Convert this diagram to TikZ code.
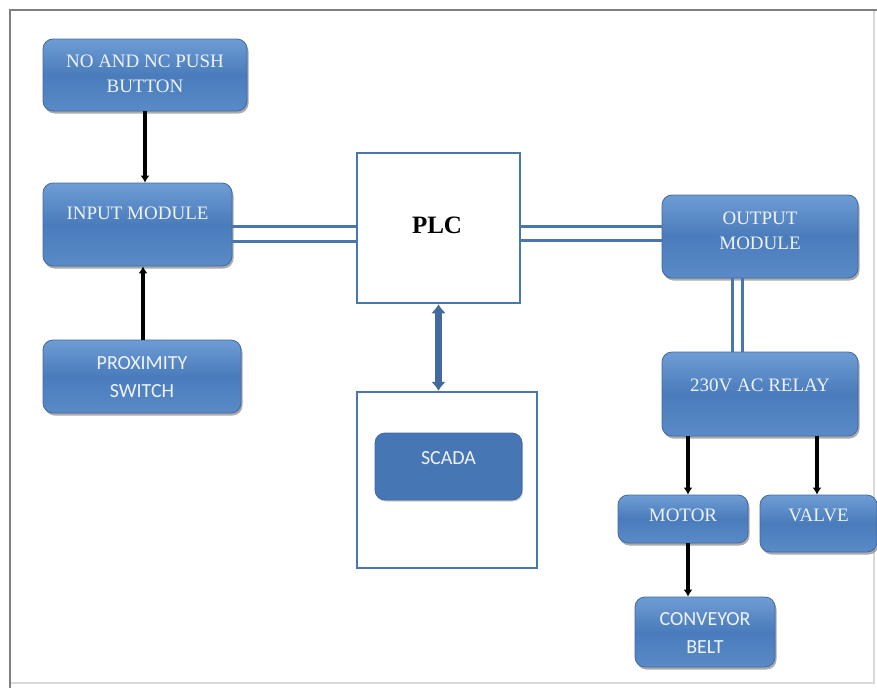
\documentclass[tikz,border=0pt]{standalone}
\usepackage{fontspec}
\setmainfont{Liberation Serif}
\newfontfamily\calib{Carlito}
\usetikzlibrary{arrows.meta,shadows}
\definecolor{bxtop}{HTML}{6E9DD5}
\definecolor{bxmid}{HTML}{4A7BBB}
\definecolor{bxbot}{HTML}{5A8BC8}
\definecolor{bxline}{HTML}{41699E}
\definecolor{lineblue}{HTML}{4A76B0}
\definecolor{txtw}{HTML}{EEF3FB}
\definecolor{scadafill}{HTML}{4676B4}
\tikzset{
  bluebox/.style={rounded corners=10pt, draw=bxline, line width=0.8pt,
    top color=bxtop, bottom color=bxbot, middle color=bxmid,
    drop shadow={shadow xshift=1.5pt, shadow yshift=-2.5pt, fill=black!60, opacity=.55},
    inner sep=0pt},
  serift/.style={text=txtw, font=\fontsize{19}{24.5}\selectfont, align=center, inner sep=0pt},
  sanst/.style={text=txtw, font=\calib\fontsize{20}{28}\selectfont, align=center, inner sep=0pt},
  whitebox/.style={draw=lineblue, line width=2.5pt, fill=white, inner sep=0pt},
  blk/.style={line width=4.5pt, draw=black, -{Latex[length=7pt,width=9pt]}},
  dbl/.style={line width=3pt, draw=lineblue},
}
\begin{document}
\begin{tikzpicture}[x=1pt,y=-1pt]
\useasboundingbox (0,0) rectangle (877,688);
\fill[white] (0,0) rectangle (877,688);
% frame
\draw[black!15, line width=1.5pt] (10,10) rectangle (874,683);
\draw[black!50, line width=2pt] (10,688) -- (10,10) -- (877,10);

% nodes
\node[bluebox, minimum width=204pt, minimum height=72pt] (btn) at (145,75) {};
\node[serift] (btnT) at (145,74) {NO AND NC PUSH\\BUTTON};

\node[bluebox, minimum width=189pt, minimum height=83pt] (in) at (137.5,224.5) {};
\node[serift] (inT) at (137.5,213) {INPUT MODULE};

\node[bluebox, minimum width=198pt, minimum height=73pt] (prox) at (142,376.5) {};
\node[sanst] (proxT) at (142,377) {PROXIMITY\\SWITCH};

\node[whitebox, minimum width=163pt, minimum height=150pt] (plc) at (438.5,228) {};
\node[font=\bfseries\fontsize{25}{28}\selectfont, inner sep=0pt] (plcT) at (437,225) {PLC};

\node[whitebox, minimum width=180pt, minimum height=176pt] (scbox) at (447,480) {};
\node[rounded corners=10pt, draw=bxline, line width=0.8pt, fill=scadafill,
      minimum width=147pt, minimum height=67pt,
      drop shadow={shadow xshift=1pt, shadow yshift=-1.5pt, fill=black!50, opacity=.4}] (scada) at (448.5,466.5) {};
\node[sanst] (scadaT) at (448.5,458) {SCADA};

\node[bluebox, minimum width=196pt, minimum height=83pt] (out) at (760,236.5) {};
\node[serift] (outT) at (760,231) {OUTPUT\\MODULE};

\node[bluebox, minimum width=196pt, minimum height=84pt] (rel) at (760,394) {};
\node[serift] (relT) at (760,385) {230V AC RELAY};

\node[bluebox, minimum width=130pt, minimum height=48pt] (motor) at (683,519) {};
\node[serift] (motorT) at (683,515) {MOTOR};

\node[bluebox, minimum width=117pt, minimum height=57pt] (valve) at (818.5,523.5) {};
\node[serift] (valveT) at (818.5,515) {VALVE};

\node[bluebox, minimum width=140pt, minimum height=70pt] (conv) at (705,632) {};
\node[sanst] (convT) at (705,633) {CONVEYOR\\BELT};

% helper coordinates
\coordinate (h1) at (0,226);
\coordinate (h2) at (0,241);
\coordinate (h3) at (0,226);
\coordinate (h4) at (0,240);
\coordinate (v1) at (732,0);
\coordinate (v2) at (742,0);
\coordinate (a1) at (688,0);
\coordinate (a2) at (817,0);
\coordinate (a3) at (145,0);
\coordinate (a4) at (143,0);

% connectors
\draw[blk] (btn.south -| a3) -- (in.north -| a3);
\draw[blk] (prox.north -| a4) -- (in.south -| a4);
\draw[blk] (rel.south -| a1) -- (motor.north -| a1);
\draw[blk] (rel.south -| a2) -- (valve.north -| a2);
\draw[blk] (motor.south -| a1) -- (conv.north -| a1);

\draw[dbl] (in.east |- h1) -- (plc.west |- h1);
\draw[dbl] (in.east |- h2) -- (plc.west |- h2);
\draw[dbl] (plc.east |- h3) -- (out.west |- h3);
\draw[dbl] (plc.east |- h4) -- (out.west |- h4);
\draw[dbl] (out.south -| v1) -- (rel.north -| v1);
\draw[dbl] (out.south -| v2) -- (rel.north -| v2);

\draw[line width=7pt, draw=lineblue!90!black, {Latex[length=9pt,width=15pt]}-{Latex[length=9pt,width=15pt]}] (plc.south) -- (scbox.north -| plc.south);
\end{tikzpicture}
\end{document}
